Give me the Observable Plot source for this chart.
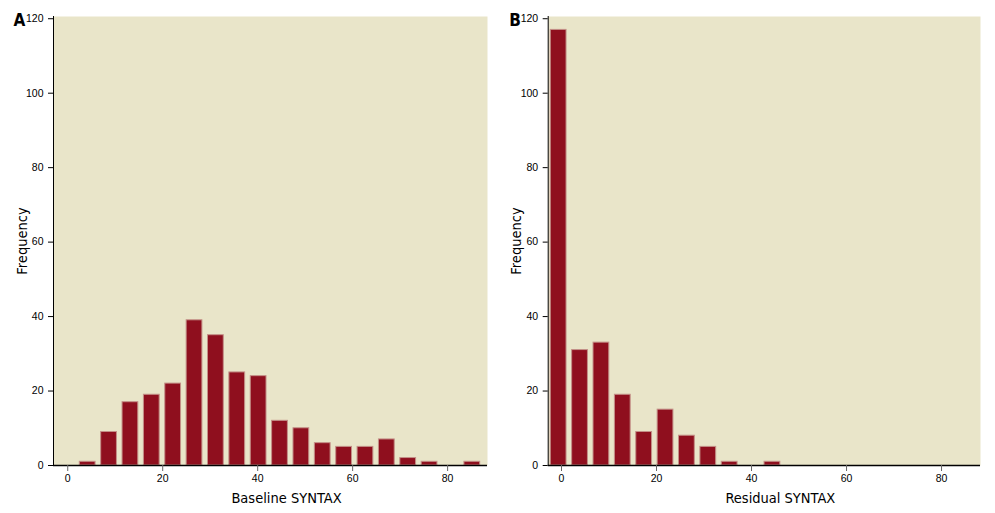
<!DOCTYPE html>
<html>
<head>
<meta charset="utf-8">
<script src="https://cdn.jsdelivr.net/npm/d3@7"></script>
<script src="https://cdn.jsdelivr.net/npm/@observablehq/plot@0.6"></script>
<style>
  html, body { margin: 0; padding: 0; background: #ffffff; }
  #wrap { display: flex; width: 995px; height: 513px; }
</style>
</head>
<body>
<div id="wrap"></div>
<script>
// ---- data ----
const binWidth = 4.5;
const baselineCenters = [4.2, 8.7, 13.2, 17.7, 22.2, 26.7, 31.2, 35.7, 40.2, 44.7, 49.2, 53.7, 58.2, 62.7, 67.2, 71.7, 76.2, 80.7, 85.2];
const baselineCounts  = [1, 9, 17, 19, 22, 39, 35, 25, 24, 12, 10, 6, 5, 5, 7, 2, 1, 0, 1];
const residualCenters = [-0.6, 3.9, 8.4, 12.9, 17.4, 21.9, 26.4, 30.9, 35.4, 39.9, 44.4];
const residualCounts  = [117, 31, 33, 19, 9, 15, 8, 5, 1, 0, 1];
const xTicks = [0, 20, 40, 60, 80];
const yTicks = [0, 20, 40, 60, 80, 100, 120];
const xDomainA = [-3, 88.4];
const xDomainB = [-2.8, 88.2];
const yDomain = [0, 120.6];

const BG = "#e9e5c9";
const BAR = "#8f0f1e";
const BAR_EDGE = "#c49088";
const NARROW = "'Liberation Sans Narrow', 'Arial Narrow', 'DejaVu Sans Condensed', sans-serif";
const SANS = "'Liberation Sans', Arial, sans-serif";

function table(centers, counts) {
  return centers.map((c, i) => ({x1: c - binWidth / 2, x2: c + binWidth / 2, count: counts[i]}))
    .filter(d => d.count > 0);
}

function panel({data, xDomain, width, marginLeft, marginRight, xLabel, letter, letterDx}) {
  return Plot.plot({
    width, height: 513,
    marginLeft, marginRight, marginTop: 16, marginBottom: 48,
    style: {fontFamily: SANS, fontSize: "10.5px", color: "#000", background: "transparent", overflow: "visible"},
    x: {domain: xDomain},
    y: {domain: yDomain},
    marks: [
      Plot.frame({fill: BG, stroke: null}),
      Plot.rectY(data, {x1: "x1", x2: "x2", y: "count", fill: BAR, stroke: BAR_EDGE, strokeWidth: 1, insetLeft: 2.8, insetRight: 2.8}),
      Plot.ruleY([0], {stroke: "#000", strokeWidth: 1.5}),
      Plot.ruleX([xDomain[0]], {stroke: "#000", strokeWidth: 1}),
      Plot.axisY(yTicks, {tickSize: 5, tickPadding: 5, label: null, stroke: "#000"}),
      Plot.axisX(xTicks, {tickSize: 6, tickPadding: 3, label: null, stroke: "#666"}),
      Plot.text([xLabel], {frameAnchor: "bottom", dx: 16, dy: 37, lineAnchor: "bottom", textAnchor: "middle", fontSize: 14.5, fontFamily: NARROW, fill: "#000"}),
      Plot.text(["Frequency"], {frameAnchor: "left", rotate: -90, dx: -27, lineAnchor: "bottom", textAnchor: "middle", fontSize: 14.5, fontFamily: NARROW, fill: "#000"}),
      Plot.text([letter], {frameAnchor: "top-left", dx: letterDx, dy: 9, lineAnchor: "bottom", textAnchor: "start", fontSize: 17, fontWeight: "bold", fontFamily: NARROW, fill: "#000"})
    ]
  });
}

const wrap = document.getElementById("wrap");
wrap.append(panel({data: table(baselineCenters, baselineCounts), xDomain: xDomainA, width: 495, marginLeft: 53, marginRight: 8, xLabel: "Baseline SYNTAX", letter: "A", letterDx: -40}));
wrap.append(panel({data: table(residualCenters, residualCounts), xDomain: xDomainB, width: 500, marginLeft: 52.7, marginRight: 15, xLabel: "Residual SYNTAX", letter: "B", letterDx: -39}));
</script>
</body>
</html>
